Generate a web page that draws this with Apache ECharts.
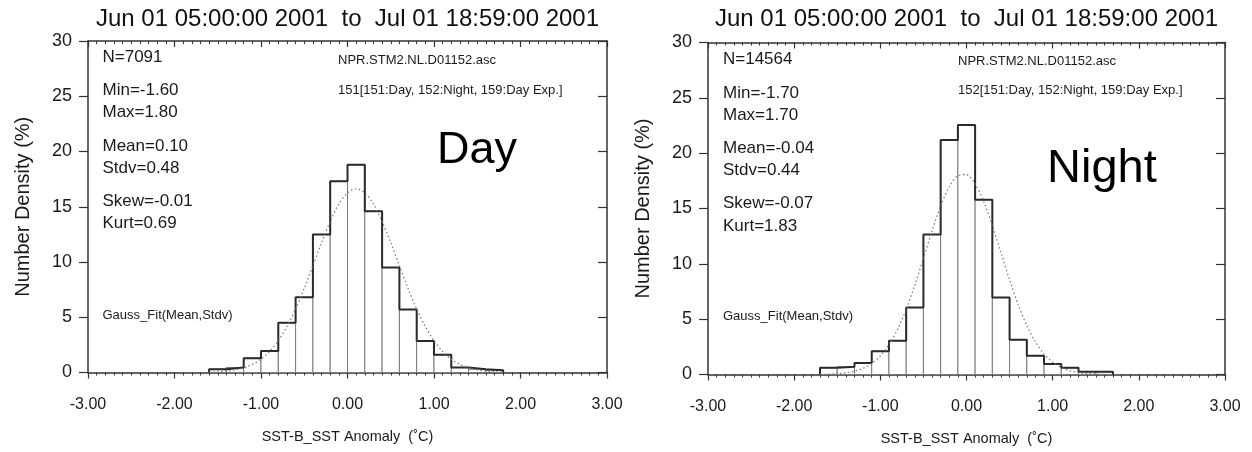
<!DOCTYPE html>
<html>
<head>
<meta charset="utf-8">
<script src="https://cdn.jsdelivr.net/npm/echarts@6/dist/echarts.min.js"></script>
<style>
html,body{margin:0;padding:0;background:#fff;}
#c{width:1252px;height:452px;}
</style>
</head>
<body>
<div id="c"></div>
<script>
// ---------- data ----------
const titleText = 'Jun 01 05:00:00 2001  to  Jul 01 18:59:00 2001';
const binWidth = 0.2;

// Day histogram (left bin edges, percent)
const dayBinLo = [-1.6,-1.4,-1.2,-1.0,-0.8,-0.6,-0.4,-0.2,0.0,0.2,0.4,0.6,0.8,1.0,1.2,1.4,1.6];
const dayValues = [0.3,0.45,1.3,1.95,4.5,6.8,12.5,17.3,18.8,14.6,9.5,5.7,2.85,1.6,0.45,0.3,0.2];
const dayGaussX = [-1.6,-1.5,-1.4,-1.3,-1.2,-1.1,-1.0,-0.9,-0.8,-0.7,-0.6,-0.5,-0.4,-0.3,-0.2,-0.1,0.0,0.1,0.2,0.3,0.4,0.5,0.6,0.7,0.8,0.9,1.0,1.1,1.2,1.3,1.4,1.5,1.6,1.7,1.8];
const dayGaussY = [0.03,0.06,0.13,0.24,0.42,0.73,1.20,1.90,2.87,4.15,5.74,7.61,9.66,11.75,13.67,15.24,16.26,16.62,16.26,15.24,13.67,11.75,9.66,7.61,5.74,4.15,2.87,1.90,1.20,0.73,0.42,0.24,0.13,0.06,0.03];
const dayStats = ['N=7091','Min=-1.60','Max=1.80','Mean=0.10','Stdv=0.48','Skew=-0.01','Kurt=0.69'];
const dayInfo = ['NPR.STM2.NL.D01152.asc','151[151:Day, 152:Night, 159:Day Exp.]'];

// Night histogram
const nightBinLo = [-1.7,-1.5,-1.3,-1.1,-0.9,-0.7,-0.5,-0.3,-0.1,0.1,0.3,0.5,0.7,0.9,1.1,1.3,1.5];
const nightValues = [0.6,0.7,1.05,2.1,3.05,6.05,12.65,21.2,22.55,15.8,6.95,3.15,1.7,0.95,0.6,0.25,0.25];
const nightGaussX = [-1.7,-1.6,-1.5,-1.4,-1.3,-1.2,-1.1,-1.0,-0.9,-0.8,-0.7,-0.6,-0.5,-0.4,-0.3,-0.2,-0.1,0.0,0.1,0.2,0.3,0.4,0.5,0.6,0.7,0.8,0.9,1.0,1.1,1.2,1.3,1.4,1.5,1.6,1.7];
const nightGaussY = [0.01,0.03,0.07,0.15,0.30,0.56,1.00,1.68,2.69,4.08,5.89,8.07,10.50,12.97,15.23,16.97,17.96,18.06,17.23,15.62,13.45,11.00,8.54,6.29,4.41,2.93,1.85,1.11,0.63,0.34,0.18,0.09,0.04,0.02,0.01];
const nightStats = ['N=14564','Min=-1.70','Max=1.70','Mean=-0.04','Stdv=0.44','Skew=-0.07','Kurt=1.83'];
const nightInfo = ['NPR.STM2.NL.D01152.asc','152[151:Day, 152:Night, 159:Day Exp.]'];

const xTickLabelFmt = v => v.toFixed(2);
const xName = 'SST-B_SST Anomaly  (\u02DAC)';
const yName = 'Number Density (%)';
const gaussLabel = 'Gauss_Fit(Mean,Stdv)';

// ---------- chart ----------
const FONT = '"Liberation Sans", Arial, Helvetica, sans-serif';
const AX = '#333';
const TXT = '#1a1a1a';
const chart = echarts.init(document.getElementById('c'), null, {renderer:'canvas'});

const grids = [
  {left:88, top:41, width:519, height:331.5, outerBoundsMode:'none'},
  {left:708, top:42.5, width:517, height:332, outerBoundsMode:'none'}
];

function xAxes(g){
  return [
    {type:'value', gridIndex:g, position:'bottom', min:-3, max:3, interval:1,
     axisLine:{show:true, onZero:false, lineStyle:{color:AX, width:1.5}},
     axisTick:{show:true, inside:false, length:6, lineStyle:{color:AX, width:1.2}},
     minorTick:{show:true, splitNumber:10, length:3, lineStyle:{color:AX, width:1}},
     splitLine:{show:false}, minorSplitLine:{show:false},
     axisLabel:{show:true, formatter:xTickLabelFmt, margin:24, fontSize:16, color:TXT, fontFamily:FONT},
     name:xName, nameLocation:'middle', nameGap:57,
     nameTextStyle:{fontSize:14.5, color:TXT, fontFamily:FONT}},
    {type:'value', gridIndex:g, position:'top', min:-3, max:3, interval:1,
     axisLine:{show:true, onZero:false, lineStyle:{color:AX, width:1.5}},
     axisTick:{show:true, inside:true, length:6, lineStyle:{color:AX, width:1.2}},
     minorTick:{show:true, splitNumber:10, length:3, lineStyle:{color:AX, width:1}},
     splitLine:{show:false}, axisLabel:{show:false}}
  ];
}
function yAxes(g){
  return [
    {type:'value', gridIndex:g, position:'left', min:0, max:30, interval:5,
     axisLine:{show:true, onZero:false, lineStyle:{color:AX, width:1.5}},
     axisTick:{show:true, inside:false, length:9, lineStyle:{color:AX, width:1.2}},
     splitLine:{show:false},
     axisLabel:{show:true, margin:16, fontSize:18, color:TXT, fontFamily:FONT},
     name:yName, nameLocation:'middle', nameGap:55, nameRotate:90,
     nameTextStyle:{fontSize:20, color:TXT, fontFamily:FONT}},
    {type:'value', gridIndex:g, position:'right', min:0, max:30, interval:5,
     axisLine:{show:true, onZero:false, lineStyle:{color:AX, width:1.5}},
     axisTick:{show:true, inside:true, length:9, lineStyle:{color:AX, width:1.2}},
     splitLine:{show:false}, axisLabel:{show:false}}
  ];
}

function histSeries(binLo, vals, gaussX, gaussY, xi, yi){
  const barData = binLo.map((lo,i)=>[lo, lo+binWidth, vals[i]]);
  const env = [[binLo[0],0]];
  binLo.forEach((lo,i)=>env.push([lo, vals[i]]));
  env.push([binLo[binLo.length-1]+binWidth, 0]);
  return [
    {type:'custom', xAxisIndex:xi, yAxisIndex:yi, z:2,
     encode:{x:[0,1], y:2},
     data:barData,
     renderItem:function(params, api){
       const p0 = api.coord([api.value(0), 0]);
       const p1 = api.coord([api.value(1), api.value(2)]);
       return {type:'rect',
         shape:{x:p0[0], y:p1[1], width:p1[0]-p0[0], height:p0[1]-p1[1]},
         style:{fill:'#fff', stroke:'#7a7a7a', lineWidth:1}};
     }},
    {type:'line', xAxisIndex:xi, yAxisIndex:yi, z:3, step:'end',
     data:env, showSymbol:false, symbol:'none', silent:true,
     lineStyle:{color:'#2a2a2a', width:2}},
    {type:'line', xAxisIndex:xi, yAxisIndex:yi, z:4, smooth:0.3,
     data:gaussX.map((x,i)=>[x, gaussY[i]]), showSymbol:false, symbol:'none', silent:true,
     lineStyle:{color:'#777', width:1.2, type:[1.5,2.5]}}
  ];
}

function txt(x, y, s, size, extra){
  return Object.assign({type:'text', x:x, y:y, silent:true, z:10,
    style:Object.assign({text:s, fontSize:size, fontFamily:FONT, fill:TXT,
      textAlign:'left', textVerticalAlign:'middle'}, extra||{})});
}

const statYL = [57, 90, 112, 146, 168, 201, 223];
const statYR = [59, 93, 115, 148, 170, 203, 226];
const graphics = [];
graphics.push(txt(347.5, 19, titleText, 24, {textAlign:'center', fill:'#111'}));
graphics.push(txt(966.5, 19, titleText, 24, {textAlign:'center', fill:'#111'}));
dayStats.forEach((s,i)=>graphics.push(txt(102.5, statYL[i], s, 17)));
nightStats.forEach((s,i)=>graphics.push(txt(723, statYR[i], s, 17)));
graphics.push(txt(338, 60, dayInfo[0], 13));
graphics.push(txt(338, 90, dayInfo[1], 13));
graphics.push(txt(958, 61.5, nightInfo[0], 13));
graphics.push(txt(958, 90, nightInfo[1], 13));
graphics.push(txt(102.5, 315, gaussLabel, 13));
graphics.push(txt(723, 316, gaussLabel, 13));
graphics.push(txt(437, 151, 'Day', 45, {fill:'#000'}));
graphics.push(txt(1047, 169, 'Night', 47, {fill:'#000'}));

const option = {
  backgroundColor:'#fff',
  animation:false,
  grid:grids,
  xAxis:[...xAxes(0), ...xAxes(1)],
  yAxis:[...yAxes(0), ...yAxes(1)],
  series:[
    ...histSeries(dayBinLo, dayValues, dayGaussX, dayGaussY, 0, 0),
    ...histSeries(nightBinLo, nightValues, nightGaussX, nightGaussY, 2, 2)
  ],
  graphic:graphics
};
chart.setOption(option);
</script>
</body>
</html>
